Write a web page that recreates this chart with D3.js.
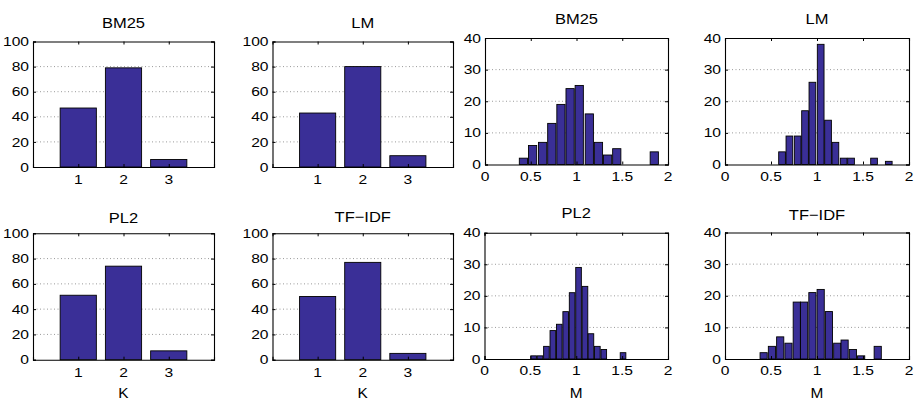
<!DOCTYPE html>
<html><head><meta charset="utf-8">
<script src="https://cdn.jsdelivr.net/npm/d3@7"></script>
<style>
body{margin:0;background:#fff;}
svg text{font-family:"Liberation Sans",Arial,Helvetica,sans-serif;fill:#000;}
</style></head><body>
<svg id="chart" width="916" height="401"></svg>
<script>
// ---- data ----
const kCategories = [1, 2, 3];
const kBM25 = [47, 79, 6];
const kLM = [43, 80, 9];
const kPL2 = [51, 74, 7];
const kTFIDF = [50, 77, 5];

const binsBM25 = [0.42,0.52,0.63,0.73,0.83,0.93,1.03,1.14,1.24,1.34,1.44,1.54,1.64,1.75,1.85];
const mBM25 = [2,6,7,13,19,24,25,16,7,3,5,0,0,0,4];
const binsLM = [0.62,0.70,0.79,0.87,0.95,1.04,1.12,1.20,1.29,1.37,1.45,1.53,1.62,1.70,1.78];
const mLM = [4,9,9,17,26,38,14,7,2,2,0,0,2,0,1];
const binsPL2 = [0.535,0.605,0.675,0.745,0.815,0.885,0.955,1.025,1.095,1.16,1.23,1.30,1.37,1.44,1.51];
const mPL2 = [1,1,4,9,11,15,21,29,23,8,4,3,0,0,2];
const binsTFIDF = [0.42,0.51,0.60,0.69,0.78,0.86,0.95,1.04,1.13,1.22,1.30,1.39,1.48,1.57,1.66];
const mTFIDF = [2,4,7,5,18,18,21,22,15,5,6,3,1,0,4];

const kTicksY = [0, 20, 40, 60, 80, 100];
const mTicksX = [0, 0.5, 1, 1.5, 2];
const mTicksY = [0, 10, 20, 30, 40];
const kTickLabelsX = ["1", "2", "3"];
const mTickLabelsX = ["0", "0.5", "1", "1.5", "2"];

// ---- layout / style ----
const BAR_FILL = "#3a2f97";
const GRID = "#9a9a9a";
const TICK_FS = 13, TICK_SX = 1.2;
const TITLE_FS = 15, TITLE_SX = 1.1;
const LABEL_FS = 14;

const panels = [
  {type:"k", title:"BM25", vals:kBM25, x0:33, x1:214, y0:41.5, y1:167, ty:28.3},
  {type:"k", title:"LM", vals:kLM, x0:272.5, x1:453, y0:41.5, y1:167, ty:28.3},
  {type:"m", title:"BM25", bins:binsBM25, vals:mBM25, x0:485, x1:668, y0:38, y1:164.5, ty:23.5},
  {type:"m", title:"LM", bins:binsLM, vals:mLM, x0:725, x1:909, y0:38, y1:164.5, ty:23.8},
  {type:"k", title:"PL2", vals:kPL2, x0:33, x1:214, y0:233.3, y1:359.7, ty:223.2, xlabel:"K"},
  {type:"k", title:"TF\u2212IDF", vals:kTFIDF, x0:272.5, x1:453, y0:233.3, y1:359.7, ty:221.8, xlabel:"K"},
  {type:"m", title:"PL2", bins:binsPL2, vals:mPL2, x0:484.5, x1:668, y0:232.7, y1:359, ty:218.3, xlabel:"M"},
  {type:"m", title:"TF\u2212IDF", bins:binsTFIDF, vals:mTFIDF, x0:725, x1:909, y0:232.5, y1:359, ty:220, xlabel:"M"}
];

const svg = d3.select("#chart");

function scaledText(g, x, y, str, fs, sx, anchor) {
  return g.append("text")
    .attr("transform", `translate(${x},${y}) scale(${sx},1)`)
    .attr("text-anchor", anchor)
    .style("font-size", fs + "px")
    .text(str);
}

panels.forEach(p => {
  const g = svg.append("g");
  let x, y, xt, yt, xtl;
  if (p.type === "k") {
    x = d3.scaleLinear().domain([0, 4]).range([p.x0, p.x1]);
    y = d3.scaleLinear().domain([0, 100]).range([p.y1, p.y0]);
    xt = kCategories; yt = kTicksY; xtl = kTickLabelsX;
  } else {
    x = d3.scaleLinear().domain([0, 2]).range([p.x0, p.x1]);
    y = d3.scaleLinear().domain([0, 40]).range([p.y1, p.y0]);
    xt = mTicksX; yt = mTicksY; xtl = mTickLabelsX;
  }
  // grid
  g.selectAll(".grid").data(yt.slice(1, -1)).join("line")
    .attr("x1", p.x0).attr("x2", p.x1)
    .attr("y1", d => y(d)).attr("y2", d => y(d))
    .attr("stroke", GRID).attr("stroke-width", 1)
    .attr("stroke-dasharray", "1,2.5");
  // bars
  if (p.type === "k") {
    g.selectAll(".bar").data(p.vals).join("rect")
      .attr("x", (d, i) => x(kCategories[i] - 0.4))
      .attr("width", x(0.8) - x(0))
      .attr("y", d => y(d))
      .attr("height", d => y(0) - y(d))
      .attr("fill", BAR_FILL).attr("stroke", "#000").attr("stroke-width", 0.9);
  } else {
    const bw = (p.bins[p.bins.length - 1] - p.bins[0]) / (p.bins.length - 1);
    const data = p.vals.map((v, i) => ({c: p.bins[i], v})).filter(d => d.v > 0);
    g.selectAll(".bar").data(data).join("rect")
      .attr("x", d => x(d.c - bw * 0.44))
      .attr("width", x(bw * 0.88) - x(0))
      .attr("y", d => y(d.v))
      .attr("height", d => y(0) - y(d.v))
      .attr("fill", BAR_FILL).attr("stroke", "#000").attr("stroke-width", 0.9);
  }
  // axes (inward ticks) via d3 axis
  const ax = g.append("g").attr("transform", `translate(0,${p.y1})`)
    .call(d3.axisBottom(x).tickValues(xt).tickSize(-3).tickFormat(""));
  const axT = g.append("g").attr("transform", `translate(0,${p.y0})`)
    .call(d3.axisTop(x).tickValues(xt).tickSize(-3).tickFormat(""));
  const ay = g.append("g").attr("transform", `translate(${p.x0},0)`)
    .call(d3.axisLeft(y).tickValues(yt).tickSize(-3).tickFormat(""));
  const ayR = g.append("g").attr("transform", `translate(${p.x1},0)`)
    .call(d3.axisRight(y).tickValues(yt).tickSize(-3).tickFormat(""));
  [ax, axT, ay, ayR].forEach(a => {
    a.select(".domain").attr("stroke", "#000").attr("stroke-width", 1.1);
    a.selectAll(".tick line").attr("stroke", "#000");
  });
  // tick labels
  xt.forEach((v, i) => {
    scaledText(g, x(v), p.y1 + (p.type === "k" ? 17 : 16.3), xtl[i], TICK_FS, TICK_SX, "middle");
  });
  yt.forEach(v => {
    scaledText(g, p.x0 - 4, y(v) + 4.6, String(v), TICK_FS, TICK_SX, "end");
  });
  // title
  scaledText(g, (p.x0 + p.x1) / 2, p.ty, p.title, TITLE_FS, TITLE_SX, "middle");
  if (p.xlabel) scaledText(g, (p.x0 + p.x1) / 2, 398, p.xlabel, LABEL_FS, 1.1, "middle");
});
</script>
</body></html>
